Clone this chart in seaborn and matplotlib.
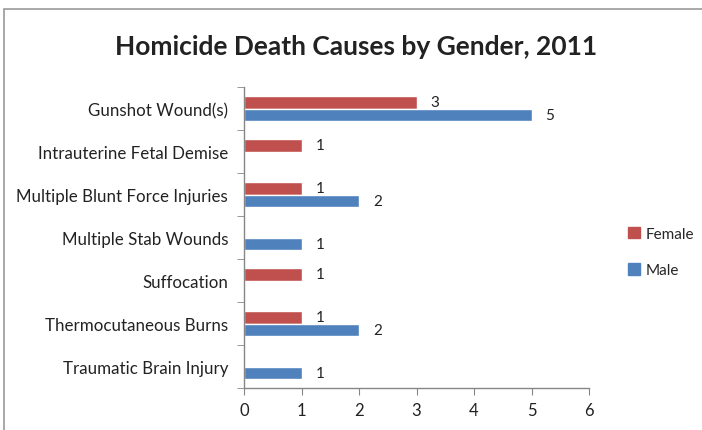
import matplotlib.pyplot as plt
import matplotlib.patches as mpatches
import seaborn as sns
import pandas as pd
import numpy as np

causes = ['Gunshot Wound(s)', 'Intrauterine Fetal Demise', 'Multiple Blunt Force Injuries',
          'Multiple Stab Wounds', 'Suffocation', 'Thermocutaneous Burns', 'Traumatic Brain Injury']
female = [3, 1, 1, None, 1, 1, None]
male = [5, None, 2, 1, None, 2, 1]
genders = ['Female', 'Male']
colors = {'Female': '#C0504D', 'Male': '#4F81BD'}

rows = []
for c, f, m in zip(causes, female, male):
    if f is not None:
        rows.append({'cause': c, 'gender': 'Female', 'count': f})
    if m is not None:
        rows.append({'cause': c, 'gender': 'Male', 'count': m})
df = pd.DataFrame(rows)

sns.set_style("white")
plt.rcParams['font.family'] = ['Lato', 'DejaVu Sans']

fig = plt.figure(figsize=(7.02, 4.31), dpi=100)
ax = fig.add_axes([244 / 702, 1 - 389 / 431, 345 / 702, 301 / 431])

sns.barplot(data=df, y='cause', x='count', hue='gender', order=causes, hue_order=genders,
            palette=colors, orient='h', width=0.56, saturation=1, ax=ax, legend=False)

for cont in ax.containers:
    ax.bar_label(cont, padding=10, fontsize=11, color='#222222')

ax.set_xlim(0, 6)
ax.set_ylim(len(causes) - 0.5, -0.5)
ax.set_xticks(range(7))
ax.set_xlabel('')
ax.set_ylabel('')
ax.set_yticks(range(len(causes)))
ax.set_yticklabels(causes)
ax.set_yticks(np.arange(-0.5, len(causes)), minor=True)
ax.tick_params(axis='y', which='major', length=0, pad=11.5, labelsize=12.2, labelcolor='#222222')
ax.tick_params(axis='y', which='minor', length=5, color='#868686', direction='out', left=True)
ax.tick_params(axis='x', length=5, color='#868686', direction='out', bottom=True,
               labelsize=12, labelcolor='#222222', pad=5)
for s in ['top', 'right']:
    ax.spines[s].set_visible(False)
for s in ['left', 'bottom']:
    ax.spines[s].set_color('#868686')
    ax.spines[s].set_linewidth(1)

fig.text(356 / 702, 1 - 47 / 431, 'Homicide Death Causes by Gender, 2011', ha='center', va='center',
         fontsize=19, fontweight='bold', color='#222222')

handles = [mpatches.Patch(color=colors[g], label=g) for g in genders]
fig.legend(handles=handles, loc='center left', bbox_to_anchor=(614 / 702, 1 - 253 / 431),
           frameon=False, fontsize=11, handlelength=0.8, handleheight=0.8, labelspacing=1.45,
           handletextpad=0.4)

fig.add_artist(plt.Rectangle((4 / 702, -0.1), 1.1, 1 - 10 / 431 + 0.1, transform=fig.transFigure,
                             fill=False, edgecolor='#9a9a9a', linewidth=1.2))

fig.savefig('out.png', dpi=100)
